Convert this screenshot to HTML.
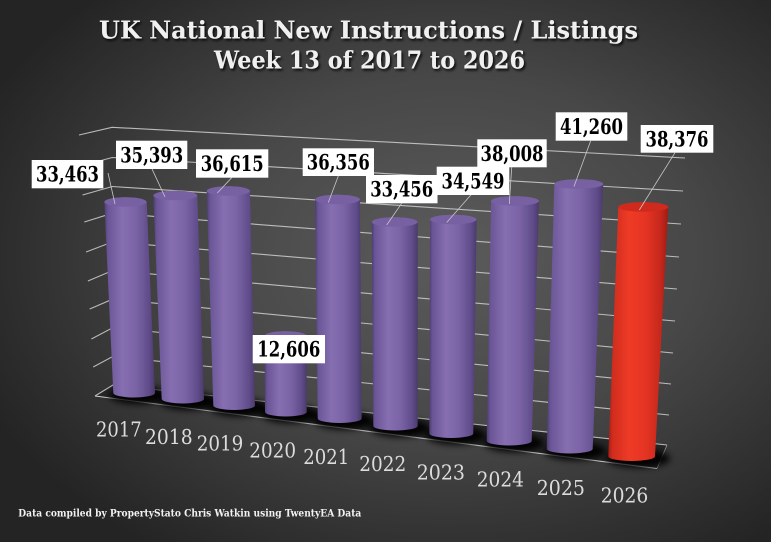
<!DOCTYPE html>
<html><head><meta charset="utf-8"><style>
html,body{margin:0;padding:0;background:#333;}
svg{display:block;}
</style></head><body>
<svg width="771" height="542" viewBox="0 0 771 542" xmlns="http://www.w3.org/2000/svg">
<defs>
<radialGradient id="bg" cx="0.58" cy="0.47" r="0.66">
<stop offset="0" stop-color="#5b5b5b"/>
<stop offset="0.5" stop-color="#474747"/>
<stop offset="1" stop-color="#242424"/>
</radialGradient>
<linearGradient id="pb" x1="0" y1="0" x2="1" y2="0">
<stop offset="0" stop-color="#4d3d70"/>
<stop offset="0.07" stop-color="#6a5596"/>
<stop offset="0.35" stop-color="#866fb1"/>
<stop offset="0.62" stop-color="#7b64a6"/>
<stop offset="0.88" stop-color="#604c8a"/>
<stop offset="1" stop-color="#4a3a6a"/>
</linearGradient>
<linearGradient id="rb" x1="0" y1="0" x2="1" y2="0">
<stop offset="0" stop-color="#a61d16"/>
<stop offset="0.07" stop-color="#d02c1e"/>
<stop offset="0.35" stop-color="#ee3b26"/>
<stop offset="0.62" stop-color="#e53423"/>
<stop offset="0.88" stop-color="#c4271b"/>
<stop offset="1" stop-color="#9c1b14"/>
</linearGradient>
<filter id="blur" x="-50%" y="-200%" width="200%" height="500%"><feGaussianBlur stdDeviation="3.5"/></filter>
<filter id="ts" x="-5%" y="-30%" width="110%" height="160%"><feDropShadow dx="1.5" dy="2" stdDeviation="1.3" flood-color="#000" flood-opacity="0.85"/></filter>
</defs>
<rect x="0" y="0" width="771" height="542" fill="url(#bg)"/>

<g font-family="'DejaVu Serif','Liberation Serif',serif" font-weight="bold" font-size="24" fill="#f0f0f0" filter="url(#ts)">
<text x="99" y="38.5" textLength="539" lengthAdjust="spacingAndGlyphs">UK National New Instructions / Listings</text>
<text x="214" y="68.5" textLength="311" lengthAdjust="spacingAndGlyphs">Week 13 of 2017 to 2026</text>
</g>

<polygon points="95,396 113,385 667,445 657,468.5" fill="#262626" opacity="0.9"/>

<g stroke="#c9c9c9" stroke-width="1.1" fill="none" opacity="0.9">
<polyline points="79,135 112.1,127.3 685,158"/>
<polyline points="80.8,166 112.2,157.5 683,191"/>
<polyline points="82.5,195 112.3,186.5 681,224"/>
<polyline points="84.3,222 112.4,213.2 679,257"/>
<polyline points="86.1,252 112.5,241.9 677,289"/>
<polyline points="87.9,281 112.6,270.5 675,321"/>
<polyline points="89.7,309 112.7,299.1 673,353"/>
<polyline points="91.4,339 112.8,327.7 671,384"/>
<polyline points="93.2,367 112.9,356.4 669,415"/>
<polyline points="95,396 113,385 667,445"/>
</g>
<line x1="95" y1="396" x2="657" y2="468.5" stroke="#cfcfcf" stroke-width="1.1"/>
<line x1="667" y1="445" x2="657" y2="468.5" stroke="#999" stroke-width="0.8"/>

<g fill="#000" filter="url(#blur)" opacity="0.95">
<ellipse cx="138" cy="395" rx="29" ry="9"/>
<ellipse cx="188" cy="401" rx="29" ry="9"/>
<ellipse cx="239" cy="407.5" rx="29" ry="9"/>
<ellipse cx="290" cy="414" rx="29" ry="9"/>
<ellipse cx="344" cy="420.5" rx="30" ry="9"/>
<ellipse cx="400" cy="428" rx="30" ry="9"/>
<ellipse cx="456" cy="435.5" rx="30" ry="9"/>
<ellipse cx="514" cy="443" rx="30" ry="9"/>
<ellipse cx="575" cy="451" rx="31" ry="9"/>
<ellipse cx="638" cy="458.5" rx="32" ry="9"/>
</g>

<g>
<path d="M104.3,202 L113.3,393 A20.85,4.5 0 0 0 155,393 L146.7,202 A21.2,4.7 0 0 0 104.3,202Z" fill="url(#pb)"/>
<ellipse cx="125.5" cy="202" rx="21.2" ry="4.7" fill="#7761a2"/>
<path d="M153.3,195.5 L161.7,399 A21.15,4.5 0 0 0 204,399 L197.3,195.5 A22,4.7 0 0 0 153.3,195.5Z" fill="url(#pb)"/>
<ellipse cx="175.3" cy="195.5" rx="22" ry="4.7" fill="#7761a2"/>
<path d="M206.7,191 L213.3,405.5 A20.85,4.5 0 0 0 255,405.5 L250,191 A21.65,4.7 0 0 0 206.7,191Z" fill="url(#pb)"/>
<ellipse cx="228.35" cy="191" rx="21.65" ry="4.7" fill="#7761a2"/>
<path d="M264.3,336 L265,412 A20.85,4.5 0 0 0 306.7,412 L306.7,336 A21.2,4.7 0 0 0 264.3,336Z" fill="url(#pb)"/>
<ellipse cx="285.5" cy="336" rx="21.2" ry="4.7" fill="#7761a2"/>
<path d="M315,199.5 L317.7,418.5 A22,4.5 0 0 0 361.7,418.5 L360,199.5 A22.5,4.7 0 0 0 315,199.5Z" fill="url(#pb)"/>
<ellipse cx="337.5" cy="199.5" rx="22.5" ry="4.7" fill="#7761a2"/>
<path d="M371.7,222 L373.3,426 A22.2,4.5 0 0 0 417.7,426 L417.7,222 A23,4.7 0 0 0 371.7,222Z" fill="url(#pb)"/>
<ellipse cx="394.7" cy="222" rx="23" ry="4.7" fill="#7761a2"/>
<path d="M430,219.5 L429.3,433.5 A22,4.5 0 0 0 473.3,433.5 L476.7,219.5 A23.35,4.7 0 0 0 430,219.5Z" fill="url(#pb)"/>
<ellipse cx="453.35" cy="219.5" rx="23.35" ry="4.7" fill="#7761a2"/>
<path d="M491,201 L486.7,441 A22.5,4.5 0 0 0 531.7,441 L539,201 A24,4.7 0 0 0 491,201Z" fill="url(#pb)"/>
<ellipse cx="515" cy="201" rx="24" ry="4.7" fill="#7761a2"/>
<path d="M554.3,184 L546.7,449 A23,4.5 0 0 0 592.7,449 L603.3,184 A24.5,4.7 0 0 0 554.3,184Z" fill="url(#pb)"/>
<ellipse cx="578.8" cy="184" rx="24.5" ry="4.7" fill="#7761a2"/>
<path d="M618.3,207 L608.3,456.5 A23.35,4.5 0 0 0 655,456.5 L668.3,207 A25,4.7 0 0 0 618.3,207Z" fill="url(#rb)"/>
<ellipse cx="643.3" cy="207" rx="25" ry="4.7" fill="#d02a1d"/>
</g>

<g stroke="#c8c8c8" stroke-width="0.8" fill="none">
<line x1="108" y1="173" x2="115" y2="204"/>
<line x1="151.7" y1="168.3" x2="165" y2="197"/>
<line x1="231.7" y1="177.7" x2="217.3" y2="193"/>
<line x1="338.3" y1="176" x2="328.3" y2="202.5"/>
<line x1="401.7" y1="203.3" x2="386.7" y2="225"/>
<line x1="471.7" y1="194" x2="446.7" y2="222.5"/>
<line x1="511.7" y1="167.3" x2="509.3" y2="204"/>
<line x1="590.7" y1="140.7" x2="574" y2="186.5"/>
<line x1="675" y1="152.7" x2="639.3" y2="210"/>
</g>

<g font-family="'DejaVu Serif','Liberation Serif',serif" font-size="21" font-weight="bold" fill="#000" text-anchor="middle">
<rect x="31.7" y="160" width="71.6" height="28.3" fill="#fff"/>
<text x="67.5" y="181.7" textLength="63" lengthAdjust="spacingAndGlyphs">33,463</text>
<rect x="116" y="140.7" width="71.3" height="28.3" fill="#fff"/>
<text x="151.7" y="162.4" textLength="63" lengthAdjust="spacingAndGlyphs">35,393</text>
<rect x="196" y="149.3" width="72.3" height="28.4" fill="#fff"/>
<text x="232.2" y="171" textLength="63" lengthAdjust="spacingAndGlyphs">36,615</text>
<rect x="252.7" y="335" width="72.3" height="28.3" fill="#fff"/>
<text x="288.8" y="356.7" textLength="63" lengthAdjust="spacingAndGlyphs">12,606</text>
<rect x="302.7" y="148.3" width="71.3" height="27.7" fill="#fff"/>
<text x="338.3" y="169.7" textLength="63" lengthAdjust="spacingAndGlyphs">36,356</text>
<rect x="366" y="175" width="71.5" height="28.3" fill="#fff"/>
<text x="401.7" y="196.7" textLength="63" lengthAdjust="spacingAndGlyphs">33,456</text>
<rect x="436.7" y="166.7" width="72.6" height="28.3" fill="#fff"/>
<text x="473" y="188.4" textLength="63" lengthAdjust="spacingAndGlyphs">34,549</text>
<rect x="477.3" y="139.3" width="69.4" height="28" fill="#fff"/>
<text x="512" y="160.8" textLength="63" lengthAdjust="spacingAndGlyphs">38,008</text>
<rect x="555.7" y="112.3" width="71.6" height="28.4" fill="#fff"/>
<text x="591.5" y="134" textLength="63" lengthAdjust="spacingAndGlyphs">41,260</text>
<rect x="640.7" y="125" width="72.6" height="27.7" fill="#fff"/>
<text x="677" y="146.4" textLength="63" lengthAdjust="spacingAndGlyphs">38,376</text>
</g>

<g font-family="'DejaVu Serif','Liberation Serif',serif" font-size="20.5" fill="#dcdcdc">
<text x="96" y="436.7" textLength="45.7" lengthAdjust="spacingAndGlyphs">2017</text>
<text x="145" y="444" textLength="47.7" lengthAdjust="spacingAndGlyphs">2018</text>
<text x="196.7" y="450.7" textLength="46.6" lengthAdjust="spacingAndGlyphs">2019</text>
<text x="249.3" y="457.3" textLength="46.7" lengthAdjust="spacingAndGlyphs">2020</text>
<text x="303.3" y="464" textLength="46" lengthAdjust="spacingAndGlyphs">2021</text>
<text x="359.3" y="471" textLength="47" lengthAdjust="spacingAndGlyphs">2022</text>
<text x="416.7" y="479.3" textLength="48.3" lengthAdjust="spacingAndGlyphs">2023</text>
<text x="476.7" y="486.7" textLength="47.3" lengthAdjust="spacingAndGlyphs">2024</text>
<text x="536.7" y="495" textLength="48.3" lengthAdjust="spacingAndGlyphs">2025</text>
<text x="600.7" y="502.3" textLength="47.6" lengthAdjust="spacingAndGlyphs">2026</text>
</g>

<text x="18.3" y="516.7" font-family="'DejaVu Serif','Liberation Serif',serif" font-size="10.5" font-weight="bold" fill="#f2f2f2" textLength="343" lengthAdjust="spacingAndGlyphs">Data compiled by PropertyStato Chris Watkin using TwentyEA Data</text>
</svg>
</body></html>
